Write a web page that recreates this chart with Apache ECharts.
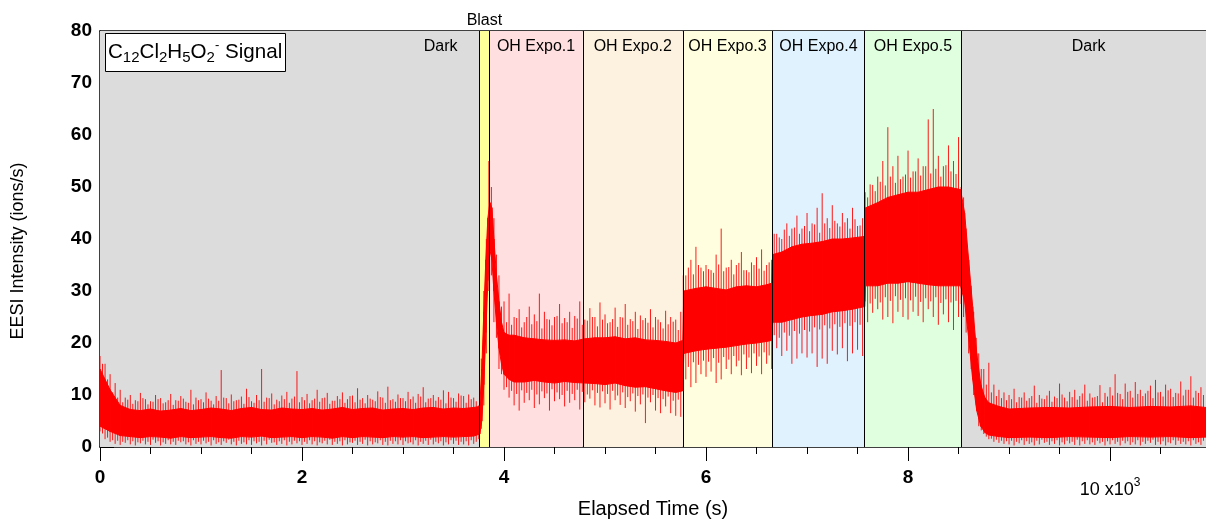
<!DOCTYPE html>
<html><head><meta charset="utf-8">
<script src="https://cdn.jsdelivr.net/npm/echarts@6/dist/echarts.min.js"></script>
<style>html,body{margin:0;padding:0;background:#fff}#c{width:1206px;height:519px}</style>
</head><body><div id="c"></div>
<script>
// ---- data ----
const regionNames  = ['Dark','Blast','OH Expo.1','OH Expo.2','OH Expo.3','OH Expo.4','OH Expo.5','Dark'];
const regionStarts = [0,3758,3854,4780,5770,6655,7570,8527];
const regionEnds   = [3758,3854,4780,5770,6655,7570,8527,10950];
const regionColors = ['#dcdcdc','#ffff99','#ffdfe0','#fdf2e0','#ffffdf','#dff2fd','#dfffdf','#dcdcdc'];

const xTickLabels = {0:'0',2000:'2',4000:'4',6000:'6',8000:'8',10000:'10 x10'};

// core (dense) band of the signal
const coreTimes = [0,100,200,300,400,500,600,700,800,900,
1000,1100,1200,1300,1400,1500,1600,1700,1800,1900,
2000,2100,2200,2300,2400,2500,2600,2700,2800,2900,
3000,3100,3200,3300,3400,3500,3600,3700,3760,3780,
3800,3820,3840,3860,3880,3900,3925,3950,3975,4000,
4050,4100,4200,4300,4400,4500,4600,4700,4800,4900,
5000,5100,5200,5300,5400,5500,5600,5700,5770,5780,
5900,6000,6100,6200,6300,6400,6500,6600,6650,6660,
6750,6850,6950,7050,7150,7250,7350,7450,7570,7580,
7700,7800,7900,8000,8100,8200,8300,8400,8520,8560,
8600,8640,8680,8720,8760,8800,8900,9000,9200,9400,
9600,9800,10000,10200,10400,10600,10800,10950];
const coreLow = [4,3,2.2,2,1.8,2,1.9,1.7,2,1.8,
1.9,2,1.8,1.7,2,1.9,2.1,1.8,1.9,2,
1.8,2,1.9,1.7,2,1.8,2,1.9,1.8,2,
1.9,2,1.8,1.9,2,1.9,2,2.1,2.5,5,
12,22,32,38,36,30,24,19,16,14,
13,12.5,12.5,12.8,12.5,12.3,12.6,12.4,12.3,12.2,
12,12.3,11.8,11.5,11.6,11.2,10.8,10.5,10.8,18,
18.5,18.8,19,19.2,19.5,19.8,20,20.3,20.5,24,
24,24.5,25,25.3,25.5,26,26.2,26.5,27,31,
31,31.5,31.5,31.8,31.5,31.2,31,31,31,28,
21,13,7,4,2.8,2.3,2,1.8,1.9,1.8,
2,1.9,1.8,2,1.9,2,1.8,1.9];
const coreHigh = [15,11,8,7.2,7,7.3,6.9,7.1,7.4,7,
7.2,7.5,7.3,7,7.4,7.6,7.2,7.1,7.5,7.3,
7.2,7.4,7.1,7.3,7.6,7.2,7.4,7.5,7.1,7.3,
7.4,7.2,7.5,7.6,7.3,7.5,7.4,7.6,7.8,15,
26,36,44,47,46,40,33,28,24,22,
21.5,21.5,21,20.8,20.6,20.5,20.6,20.4,20.8,21,
21,21.2,20.8,21,20.6,20.5,20.3,20,20.5,30,
30.5,30.8,30.5,30.2,30.8,31,30.8,31.2,31.5,37,
37.5,38.5,39,39.2,39.5,40,40,40.2,40.5,46,
47,48,48.5,49,49,49.5,50,50,49.5,45,
36,27,18,12,9.5,8.5,7.8,7.3,7.5,7.6,
7.5,7.7,7.8,7.6,7.8,7.7,7.9,7.6];

// tallest spike extremes, one reading every 50 s from 0 to 10900 s
const spikeStep = 50;
const spikeHigh = [17.5,16,14,12.3,11,9.5,10,9,10.4,9.2,8.8,10,9.4,8.6,10.2,9,9.8,8.7,11,9.5,
9.2,10.5,8.9,9.8,14.8,9.4,10.1,9,9.7,11.2,8.8,10,15,9.5,10.3,9.1,9.9,10.6,9.3,14.6,
9.6,10.2,9,11,9.4,10.4,8.9,9.8,10.5,9.2,9.9,11.3,9.4,10,9.1,10.7,9.5,11.6,9.2,10.1,
9.4,10.6,9.7,10.2,11.5,9.3,10,9.6,10.9,10.6,9.4,10.3,9.8,10.1,9.5,8,30,55,44,33,
28,29.5,25,26.5,24,27,25.5,29.5,26,24.5,25,27.5,24.8,26,25.2,28,24.5,26.7,25,27.8,
25.5,24,26.8,25,27.5,24.6,26,25.3,24.8,26.5,25,24,26.2,25,24.5,26,33,36,38.5,34.5,
35,34,37,42,34.5,36,35,37.5,34,35.5,36.5,38,35,36,41,40,43,42,44.5,42,
45,43,46,48.8,44,46.5,43,45,44,46,42.5,44,48,50.4,52,55,61.5,54,56,52,
57,53,55.5,54,63,65,56,54,58,55,59.6,48,36,26,18,15,16.2,12,11,10.5,
10,11.2,9.6,10.5,9.4,11.8,10,9.2,10.8,9.7,12.2,9.5,10.6,11,9.8,12,10.3,9.6,11.9,10.4,
11.5,14,10.2,12.2,10.8,12.5,11,10.3,11.8,12.9,10.6,12,11.2,10.4,12.6,11,13.6,10.8,11.5];
const spikeLow = [3,1.5,1,0.6,0.4,0.8,0.5,0.3,0.7,0.5,0.4,0.8,0.3,0.6,0.5,0.4,0.9,0.5,0.3,0.6,
0.5,0.7,0.3,0.6,0.4,0.8,0.5,0.3,0.6,0.5,0.4,0.7,0.3,0.5,0.8,0.4,0.6,0.3,0.5,0.7,
0.4,0.6,0.5,0.3,0.7,0.5,0.4,0.6,0.3,0.5,0.8,0.4,0.6,0.3,0.5,0.7,0.4,0.3,0.6,0.5,
0.4,0.7,0.5,0.3,0.6,0.4,0.5,0.7,0.3,0.5,0.6,0.4,0.5,0.3,0.6,1.5,8,30,24,15,
11,9.5,8,7,8.5,9,7.5,8.2,9.4,7,8.8,9.2,7.8,8.5,9,7.2,8.6,9.3,8,7.6,
8.4,7.2,9,8.1,7.5,8.8,6.8,8.2,4.6,8.6,7,6.5,7.8,6.5,6,5.8,13,11.5,12.3,14,
13.5,14.5,12.3,13,15,14,15.5,13.8,15,14.2,15.6,14,16,15,19,17.5,18.5,16,17,18,
17.2,18,15.4,17,16,18.5,17.8,19,16.5,18,18.7,17.5,24,25.8,26.5,24.5,25,23.8,26,25,
24.5,26,25.2,24,26.5,25,23.5,25.5,24,22.5,25,25,18,10,4,2.5,1.5,1,0.8,0.6,
0.5,0.3,0.7,0.4,0.6,0.3,0.5,0.8,0.4,0.6,0.3,0.5,0.7,0.4,0.3,0.6,0.5,0.4,0.7,0.3,
0.5,0.6,0.3,0.7,0.4,0.5,0.3,0.6,0.8,0.4,0.5,0.3,0.7,0.4,0.6,0.5,0.3,0.6,0.4];

// smaller spike extremes in between, one reading every 50 s from 25 to 10925 s
const spikeOffset2 = 25;
const spikeHigh2 = [16,13,10.5,9.5,8.6,9.1,8.3,8.8,9.4,8.2,8.7,9.2,8.4,9,8.1,8.9,9.3,8.5,8.2,9,
8.6,9.3,8.2,8.9,9.5,8.4,8.8,9.1,8.3,9.6,8.5,9,8.7,9.4,8.2,8.8,9.2,8.5,9.7,8.6,
9,8.4,9.3,8.7,9.5,8.3,8.9,9.2,8.5,9.8,8.6,9.1,8.4,9.3,8.8,9.6,8.5,9,8.7,9.4,
8.8,9.2,8.5,9.7,8.6,9.4,8.9,9.1,8.4,9.5,8.7,9.9,8.5,9.2,8.8,17,40,50,37,27,
24,23.5,24.8,23,25,23.6,24.2,22.8,24.6,23.4,25.2,23.8,24,22.9,24.7,23.5,24.3,25,23.2,24.5,
23.8,24.6,23.1,24.9,23.5,24.2,22.7,24.4,23.9,23,24.5,22.8,23.6,24.1,22.5,33,34.5,33.2,35,33.8,
34.2,33.5,35.1,33.8,34.6,33.2,35.4,34,33.6,35,34.3,33.9,35.5,41,40.3,41.8,40.6,42.2,41,42.5,
41.5,42.8,41.2,43,42.1,43.5,42.4,43.2,42,43.8,42.6,49,50.5,49.2,51,50.3,52,50.8,51.5,52.4,
51.8,53,52.2,54,52.6,53.5,52,54.2,53,52.5,50,42,31,21,15,12,10.5,9.8,9.4,9,
9.2,8.6,9.5,8.9,9.8,8.5,9.3,9.9,8.7,9.4,10.1,8.8,9.6,9.1,10.3,8.9,9.5,9.8,8.6,9.7,
9.9,10.4,9.2,10.6,9.5,10.2,9.8,10.8,9.4,10.5,9.7,10.9,9.6,10.3,9.9,11,9.5,10.4,10];
const spikeLow2 = [2.6,1.8,1.3,1.2,1,1.3,1.1,0.9,1.2,1,1.4,1.1,0.9,1.3,1,1.2,1.1,0.9,1.3,1,
1.2,1,1.3,0.9,1.1,1.4,1,1.2,0.9,1.3,1.1,1,1.2,1.4,0.9,1.1,1.3,1,1.2,1.1,
1,1.3,1.1,0.9,1.2,1.4,1,1.1,1.3,0.9,1.2,1,1.4,1.1,0.9,1.3,1,1.2,1.1,1.3,
1.1,0.9,1.3,1,1.2,1.4,1,1.1,0.9,1.3,1.2,1,1.1,1.3,1,3.5,18,33,21,14,
11.5,10.8,10.2,10.9,10.4,11,10.1,10.7,10.3,11.1,10.5,10,10.8,10.2,11,10.6,10.1,10.9,10.4,10.7,
10.2,10.8,9.9,10.5,9.6,10.3,9.8,10.1,9.5,10,9.4,9.2,9.7,8.9,9.1,16,15.4,16.3,15.8,16.6,
16.4,17.1,16.2,17.3,16.8,17.5,16.6,17.8,17.2,18,17.4,18.2,17.6,21.5,21,22,21.4,22.3,21.8,22.5,
22.2,23,22.6,23.4,22.8,23.6,23.1,23.8,23.3,24,23.5,28,27.6,28.5,27.8,28.8,28.1,29,28.3,28.6,
28.2,28.9,27.9,28.6,28,28.8,27.7,28.4,27.8,28.1,27.5,22,15,8,3.2,2,1.6,1.4,1.2,1.1,
1.2,1,1.3,1.1,0.9,1.2,1.4,1,1.1,1.3,0.9,1.2,1,1.4,1.1,1.3,0.9,1.2,1,1.1,
1.3,1,1.2,1.1,0.9,1.3,1,1.2,1.4,1,1.1,0.9,1.3,1.2,1,1.1,1.3,0.9,1.2];

// ---- build chart ----
const FONT = '"Liberation Sans", Arial, Helvetica, sans-serif';
const X_MAX = 10950;

const coreData = coreTimes.map((t,i)=>[t, coreLow[i], coreHigh[i]]);
const spikeData = spikeHigh.map((h,i)=>[i*spikeStep, spikeLow[i], h])
  .concat(spikeHigh2.map((h,i)=>[spikeOffset2 + i*spikeStep, spikeLow2[i], h]));

const areaData = regionNames.map((n,i)=>{
  let label = {show:true, position:'insideTop', distance:8, color:'#000', fontSize:16, fontFamily:FONT};
  if (i===0) label = Object.assign({}, label, {position:'insideTopRight', offset:[-14,0]});
  if (n==='Blast') label = Object.assign({}, label, {position:'top', distance:2});
  if (i===regionNames.length-1) label = Object.assign({}, label, {offset:[5,0]});
  return [{name:n, xAxis:regionStarts[i], itemStyle:{color:regionColors[i]}, label:label},
          {xAxis:regionEnds[i]}];
});
const boundaryData = regionEnds.slice(0, regionEnds.length-1).map(v=>({xAxis:v}));

const chart = echarts.init(document.getElementById('c'), null, {renderer:'canvas'});
chart.setOption({
  animation:false,
  backgroundColor:'#fff',
  textStyle:{fontFamily:FONT},
  title:{
    text:'{t|C}{s|12}{t|Cl}{s|2}{t|H}{s|5}{t|O}{s|2}{p|-}{t| Signal}',
    left:105, top:33, padding:[6,4,7,3],
    borderColor:'#000', borderWidth:1, backgroundColor:'#fff',
    textStyle:{fontWeight:'normal', rich:{
      t:{fontSize:20.6, fontWeight:'normal', color:'#000', fontFamily:FONT, lineHeight:26, verticalAlign:'middle'},
      s:{fontSize:15, fontWeight:'normal', color:'#000', fontFamily:FONT, lineHeight:26, verticalAlign:'bottom'},
      p:{fontSize:13, fontWeight:'normal', color:'#000', fontFamily:FONT, lineHeight:26, verticalAlign:'top'}
    }}
  },
  grid:{left:100, right:0, top:31, bottom:72, containLabel:false, outerBoundsMode:'none'},
  xAxis:[{
    type:'value', min:0, max:X_MAX, interval:2000, position:'bottom',
    axisLine:{show:true, onZero:false, lineStyle:{color:'#000', width:1.5}},
    splitLine:{show:false},
    axisTick:{show:true, inside:false, length:14, lineStyle:{color:'#000', width:1}},
    minorTick:{show:true, splitNumber:4, length:7, lineStyle:{color:'#000', width:1}},
    axisLabel:{
      margin:21, showMaxLabel:false, color:'#000',
      formatter:function(v){
        const s = xTickLabels[v];
        if (s===undefined) return '';
        if (v===10000) return '{n|'+s+'}{e|3}';
        return '{b|'+s+'}';
      },
      rich:{
        b:{fontSize:19, fontWeight:'bold', color:'#000', fontFamily:FONT},
        n:{fontSize:18, color:'#000', fontFamily:FONT, padding:[13,0,0,0]},
        e:{fontSize:12, color:'#000', fontFamily:FONT, verticalAlign:'top', padding:[9,0,0,0]}
      }
    },
    name:'Elapsed Time (s)', nameLocation:'middle', nameGap:52, nameMoveOverlap:false,
    nameTextStyle:{fontSize:20, color:'#000', fontFamily:FONT}
  },{
    type:'value', min:0, max:X_MAX, position:'top',
    axisLine:{show:true, onZero:false, lineStyle:{color:'#000', width:1.5}},
    axisTick:{show:false}, axisLabel:{show:false}, splitLine:{show:false}
  }],
  yAxis:{
    type:'value', min:0, max:80, interval:10,
    axisLine:{show:true, onZero:false, lineStyle:{color:'#000', width:1.5}},
    splitLine:{show:false},
    axisTick:{show:true, inside:true, length:14, lineStyle:{color:'#000', width:1}},
    minorTick:{show:true, splitNumber:5, length:8, lineStyle:{color:'#000', width:1}},
    axisLabel:{margin:8, fontSize:19, fontWeight:'bold', color:'#000', fontFamily:FONT},
    name:'EESI Intensity (ions/s)', nameLocation:'middle', nameGap:73, nameMoveOverlap:false,
    nameTextStyle:{fontSize:18, color:'#000', fontFamily:FONT, padding:[0,24,0,0]}
  },
  series:[
    {
      type:'line', data:[[0,-10]], symbol:'none', lineStyle:{opacity:0}, silent:true, z:1,
      markArea:{silent:true, data:areaData},
      markLine:{silent:true, symbol:'none', label:{show:false},
        lineStyle:{color:'#000', type:'solid', width:1}, data:boundaryData}
    },
    {
      type:'custom', clip:true, z:3, silent:true,
      data:spikeData, encode:{x:0, y:[1,2]},
      renderItem:function(params, api){
        const a = api.coord([api.value(0), api.value(1)]);
        const b = api.coord([api.value(0), api.value(2)]);
        return {type:'line', shape:{x1:a[0], y1:a[1], x2:b[0], y2:b[1]},
                style:{stroke:'rgba(255,0,0,0.9)', lineWidth:1}};
      }
    },
    {
      type:'custom', clip:true, z:4, silent:true,
      data:coreData, encode:{x:0, y:[1,2]},
      renderItem:function(params, api){
        const i = params.dataIndex;
        if (i >= coreTimes.length-1) return null;
        const p1 = api.coord([coreTimes[i], coreLow[i]]);
        const p2 = api.coord([coreTimes[i], coreHigh[i]]);
        const p3 = api.coord([coreTimes[i+1], coreHigh[i+1]]);
        const p4 = api.coord([coreTimes[i+1], coreLow[i+1]]);
        return {type:'polygon', shape:{points:[p1,p2,p3,p4]},
                style:{fill:'#ff0000', stroke:'#ff0000', lineWidth:1}};
      }
    }
  ]
});
</script></body></html>
